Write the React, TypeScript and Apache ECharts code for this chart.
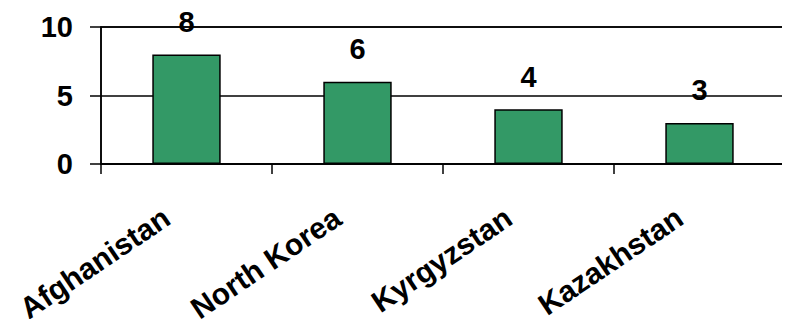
import React, { useEffect, useRef } from "react";
import * as echarts from "echarts";

const categories = ["Afghanistan", "North Korea", "Kyrgyzstan", "Kazakhstan"];
const values = [8, 6, 4, 3];
const yTicks = [0, 5, 10];

const FONT = "Arial, 'Liberation Sans', sans-serif";

export default function App() {
  const ref = useRef<HTMLDivElement>(null);
  useEffect(() => {
    if (!ref.current) return;
    const chart = echarts.init(ref.current, null, { renderer: "svg" });
    chart.setOption({
      animation: false,
      grid: {
        left: 101,
        right: 5,
        top: 27,
        bottom: 163,
        show: true,
        borderColor: "#000",
        borderWidth: 1.5,
        containLabel: false,
      },
      xAxis: {
        type: "category",
        data: categories,
        axisLine: { show: true, lineStyle: { color: "#000", width: 1.5 } },
        axisTick: { show: true, length: 10, alignWithLabel: false, lineStyle: { color: "#000", width: 1.5 } },
        axisLabel: {
          rotate: 34,
          margin: 37,
          interval: 0,
          padding: [0, 24, 0, 0],
          color: "#000",
          fontFamily: FONT,
          fontWeight: "bold",
          fontSize: 30,
        },
        splitLine: { show: false },
      },
      yAxis: {
        type: "value",
        min: yTicks[0],
        max: yTicks[yTicks.length - 1],
        interval: 5,
        axisLine: { show: true, lineStyle: { color: "#000", width: 1.5 } },
        axisTick: { show: true, length: 11, lineStyle: { color: "#000", width: 1.5 } },
        axisLabel: {
          margin: 28,
          color: "#000",
          fontFamily: FONT,
          fontWeight: "bold",
          fontSize: 29,
        },
        splitLine: { show: true, lineStyle: { color: "#000", width: 1.5 } },
      },
      series: [
        {
          type: "bar",
          data: values,
          barWidth: "40%",
          itemStyle: { color: "#339966", borderColor: "#000", borderWidth: 1.5 },
          label: {
            show: true,
            position: "top",
            distance: 18,
            color: "#000",
            fontFamily: FONT,
            fontWeight: "bold",
            fontSize: 29,
          },
        },
      ],
    });
    return () => chart.dispose();
  }, []);
  return <div ref={ref} style={{ width: 790, height: 327, margin: -8 }} />;
}
